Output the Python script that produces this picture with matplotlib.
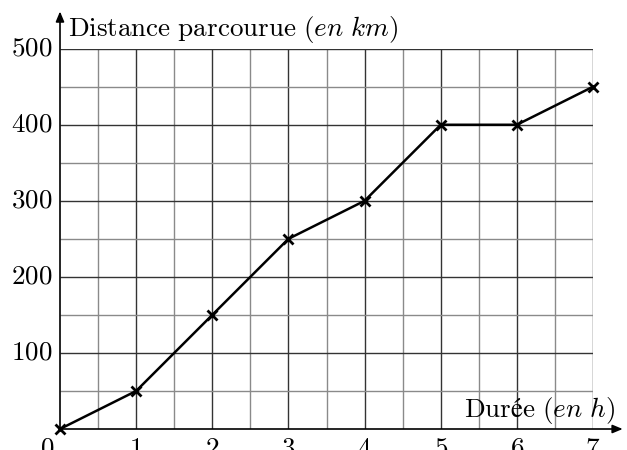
import matplotlib
matplotlib.use("Agg")
import matplotlib.pyplot as plt
import numpy as np

plt.rcParams["mathtext.fontset"] = "cm"
plt.rcParams["font.family"] = ["cmr10", "DejaVu Serif"]

# data
hours = [0, 1, 2, 3, 4, 5, 6, 7]
distance = [0, 50, 150, 250, 300, 400, 400, 450]
x_ticks = [1, 2, 3, 4, 5, 6, 7]
y_ticks = [100, 200, 300, 400, 500]

FS = 19.5

fig = plt.figure(figsize=(6.27, 4.5), dpi=100, facecolor="white")
ax = fig.add_axes([60 / 627, 21 / 450, 533 / 627, 380.3 / 450])
ax.set_xlim(0, 7)
ax.set_ylim(0, 500)
ax.axis("off")

# grid: minor (half unit) in grey, major in dark grey
for xv in np.arange(0.5, 7.01, 0.5):
    major = float(xv).is_integer()
    ax.plot([xv, xv], [0, 500], color="#333333" if major else "#8a8a8a",
            lw=1.0, zorder=1, solid_capstyle="butt")
for yv in np.arange(50, 500.1, 50):
    major = yv % 100 == 0
    ax.plot([0, 7], [yv, yv], color="#333333" if major else "#8a8a8a",
            lw=1.0, zorder=1, solid_capstyle="butt")

# axes with arrows
arrow = dict(arrowstyle="-|>,head_length=0.6,head_width=0.25", color="black",
             lw=1.2, shrinkA=0, shrinkB=0)
ax.annotate("", xy=(7.39, 0), xytext=(0, 0), arrowprops=arrow,
            annotation_clip=False, zorder=3)
ax.annotate("", xy=(0, 549), xytext=(0, 0), arrowprops=arrow,
            annotation_clip=False, zorder=3)

# curve
ax.plot(hours, distance, color="black", lw=1.8, marker="x", ms=7.5, mew=2,
        zorder=4, clip_on=False)

# tick labels
for xv in x_ticks:
    ax.text(xv, -10.5, f"${xv}$", ha="center", va="top", fontsize=FS,
            clip_on=False)
ax.text(-0.17, -10.5, "$0$", ha="center", va="top", fontsize=FS, clip_on=False)
for yv in y_ticks:
    ax.text(-0.105, yv, f"${yv}$", ha="right", va="center", fontsize=FS,
            clip_on=False)

# axis titles
ax.text(0.105, 516.7, r"$\mathrm{Distance\ parcourue}\ \mathit{(en\ km)}$",
        ha="left", va="baseline", fontsize=FS, clip_on=False)
ax.text(7.29, 15.8, r"$\mathrm{Durée}\ \mathit{(en\ h)}$",
        ha="right", va="baseline", fontsize=FS, clip_on=False)

fig.savefig("out.png", dpi=100, facecolor="white")
